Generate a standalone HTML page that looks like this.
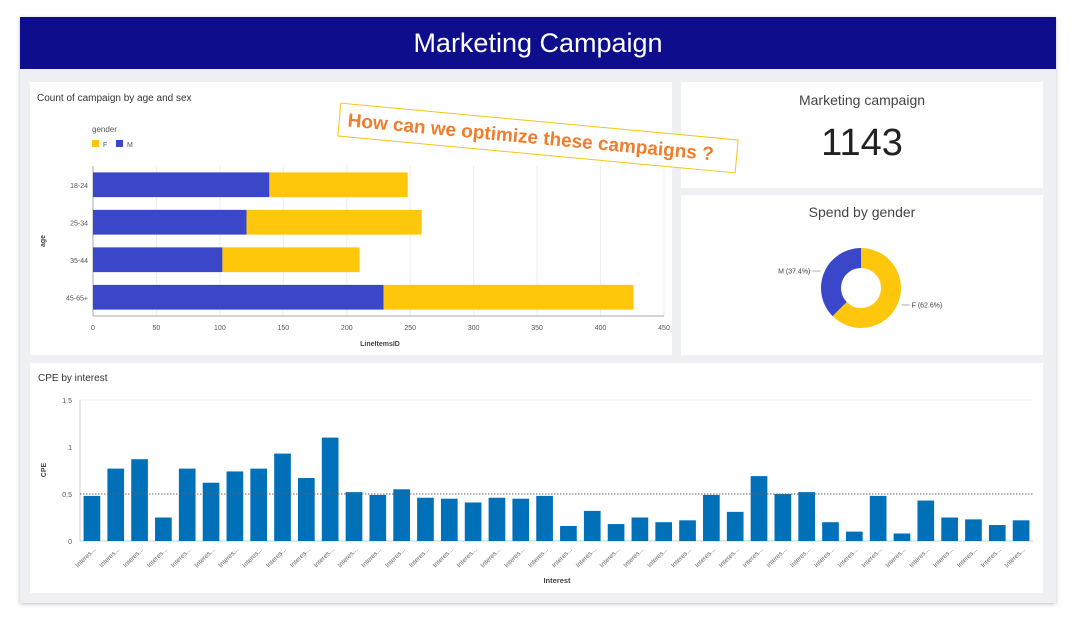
<!DOCTYPE html>
<html><head><meta charset="utf-8">
<style>
body{margin:0;width:1078px;height:622px;background:#fff;position:relative;overflow:hidden;font-family:"Liberation Sans",sans-serif}
.abs{position:absolute}
.panel{position:absolute;background:#fff}
</style></head><body>
<div class="abs" style="left:20px;top:17px;width:1036px;height:586px;background:#eef0f3;box-shadow:0 1px 4px rgba(0,0,0,.25)"></div>
<div class="abs" style="left:20px;top:17px;width:1036px;height:52px;background:#0e0e8c;color:#fff;font-size:27px;text-align:center;line-height:52px">Marketing Campaign</div>
<div class="panel" style="left:30px;top:82px;width:642px;height:273px"></div>
<div class="panel" style="left:681px;top:82px;width:362px;height:106px">
 <div style="text-align:center;margin-top:10px;font-size:14px;color:#444">Marketing campaign</div>
 <div style="text-align:center;margin-top:14px;font-size:38px;color:#222">1143</div>
</div>
<div class="panel" style="left:681px;top:195px;width:362px;height:160px">
 <div style="text-align:center;margin-top:9px;font-size:14px;color:#444">Spend by gender</div>
</div>
<div class="panel" style="left:30px;top:363px;width:1013px;height:230px"></div>
<svg class="abs" style="left:0;top:0" width="1078" height="622" id="svg" font-family="Liberation Sans, sans-serif"></svg>
<div class="abs" style="left:338px;top:121px;width:400px;height:34px;border:1px solid #f5c518;background:#fff;transform:rotate(5.3deg);color:#ef7d2b;font-weight:bold;font-size:19px;line-height:34px;padding-left:8px;box-sizing:border-box;font-family:'Liberation Sans',sans-serif">How can we optimize these campaigns ?</div>
<script>
const ages=["18-24","25-34","35-44","45-65+"];
const maleCounts=[139,121,102,229];
const femaleCounts=[109,138,108,197];
const hTicks=[0,50,100,150,200,250,300,350,400,450];
const genderLabels=["F","M"];
const genderShares=[62.6,37.4];
const cpeValues=[0.48,0.77,0.87,0.25,0.77,0.62,0.74,0.77,0.93,0.67,1.1,0.52,0.49,0.55,0.46,0.45,0.41,0.46,0.45,0.48,0.16,0.32,0.18,0.25,0.2,0.22,0.49,0.31,0.69,0.5,0.52,0.2,0.1,0.48,0.08,0.43,0.25,0.23,0.17,0.22];
const cpeTicks=[0,0.5,1,1.5];
const cpeRef=0.5;
const NS="http://www.w3.org/2000/svg";
const svg=document.getElementById('svg');
function mk(t,a,txt){const e=document.createElementNS(NS,t);for(const k in a)e.setAttribute(k,a[k]);if(txt!==undefined)e.textContent=txt;svg.appendChild(e);return e;}
let e;
e=mk('text',{x:37,y:101,'font-size':10,fill:'#333'},'Count of campaign by age and sex');


e=mk('text',{x:92,y:132,'font-size':8,fill:'#555'},'gender');


e=mk('rect',{x:92,y:140,width:7,height:7,fill:'#fec70b'});


e=mk('text',{x:103,y:147,'font-size':7,fill:'#555'},genderLabels[0]);


e=mk('rect',{x:116,y:140,width:7,height:7,fill:'#3b47c9'});


e=mk('text',{x:127,y:147,'font-size':7,fill:'#555'},genderLabels[1]);


const hx0=93,hx1=664,hyTop=166,hyBot=316;
const hx=v=>hx0+(v/450)*(hx1-hx0);
hTicks.forEach(t=>{
 e=mk('line',{x1:hx(t),x2:hx(t),y1:hyTop,y2:hyBot,stroke:'#eee'});
 
 
 e=mk('text',{x:hx(t),y:330,'font-size':7,fill:'#555','text-anchor':'middle'},t);
 
 
});
e=mk('line',{x1:hx0,x2:hx1,y1:hyBot,y2:hyBot,stroke:'#aaa'});


e=mk('line',{x1:hx0,x2:hx0,y1:hyTop,y2:hyBot,stroke:'#aaa'});


const band=(hyBot-hyTop)/ages.length;
ages.forEach((a,i)=>{
 const y=hyTop+band*i+band*0.17, h=band*0.66;
 e=mk('rect',{x:hx0,y:y,width:hx(maleCounts[i])-hx0,height:h,fill:'#3b47c9'});
 
 
 e=mk('rect',{x:hx(maleCounts[i]),y:y,width:hx(maleCounts[i]+femaleCounts[i])-hx(maleCounts[i]),height:h,fill:'#fec70b'});
 
 
 e=mk('text',{x:88,y:y+h/2+3,'font-size':7,fill:'#555','text-anchor':'end'},a);
 
 
});
e=mk('text',{x:380,y:346,'font-size':7,'font-weight':'bold',fill:'#444','text-anchor':'middle'},'LineItemsID');


e=mk('text',{x:45,y:241,'font-size':7,'font-weight':'bold',fill:'#444','text-anchor':'middle',transform:'rotate(-90 45 241)'},'age');


const cx=861,cy=288,R=40,r=20;
let ang=0;
const cols=['#fec70b','#3b47c9'];
genderShares.forEach((s,i)=>{
 const a0=ang,a1=ang+s/100*2*Math.PI;ang=a1;
 const p=(a,rad)=>[cx+rad*Math.sin(a),cy-rad*Math.cos(a)];
 const large=(a1-a0)>Math.PI?1:0;
 const [x0,y0]=p(a0,R),[x1,y1]=p(a1,R),[x2,y2]=p(a1,r),[x3,y3]=p(a0,r);
 e=mk('path',{d:`M${x0},${y0}A${R},${R} 0 ${large} 1 ${x1},${y1}L${x2},${y2}A${r},${r} 0 ${large} 0 ${x3},${y3}Z`,fill:cols[i]});
 
 
 const mid=(a0+a1)/2,[lx,ly]=p(mid,R+4);
 const left=Math.sin(mid)<0;
 mk('line',{x1:lx,y1:ly,x2:lx+(left?-8:8),y2:ly,stroke:'#888','stroke-width':0.7});
 e=mk('text',{x:lx+(left?-10:10),y:ly+2.5,'font-size':7,fill:'#444','text-anchor':left?'end':'start'},`${genderLabels[i]} (${s}%)`);
 
 
});
e=mk('text',{x:38,y:381,'font-size':10,fill:'#333'},'CPE by interest');


const bx0=80,bx1=1033,by0=541,byTop=400;
const by=v=>by0-(v/1.5)*(by0-byTop);
cpeTicks.forEach(t=>{
 e=mk('text',{x:72,y:by(t)+3,'font-size':7,fill:'#555','text-anchor':'end'},t);
 
 
});
mk('line',{x1:bx0,x2:bx1,y1:byTop,y2:byTop,stroke:'#f0f0f0'});
e=mk('line',{x1:bx0,x2:bx0,y1:byTop,y2:by0,stroke:'#ccc'});


e=mk('line',{x1:bx0,x2:bx1,y1:by0,y2:by0,stroke:'#ccc'});


const pitch=(bx1-bx0)/cpeValues.length;
cpeValues.forEach((v,i)=>{
 const x=bx0+pitch*i+pitch*0.15;
 e=mk('rect',{x:x,y:by(v),width:pitch*0.7,height:by0-by(v),fill:'#0070b8'});
 
 
 const tx=bx0+pitch*i+pitch/2+4,ty=550;
 e=mk('text',{x:tx,y:ty,'font-size':6.5,fill:'#666','text-anchor':'end',transform:`rotate(-45 ${tx} ${ty})`},'Interes...');
 
 
});
e=mk('line',{x1:bx0,x2:bx1,y1:by(cpeRef),y2:by(cpeRef),stroke:'#666','stroke-dasharray':'1.5 1.5'});


e=mk('text',{x:557,y:583,'font-size':7.5,'font-weight':'bold',fill:'#444','text-anchor':'middle'},'Interest');


e=mk('text',{x:46,y:470,'font-size':7,'font-weight':'bold',fill:'#444','text-anchor':'middle',transform:'rotate(-90 46 470)'},'CPE');


</script>
</body></html>
